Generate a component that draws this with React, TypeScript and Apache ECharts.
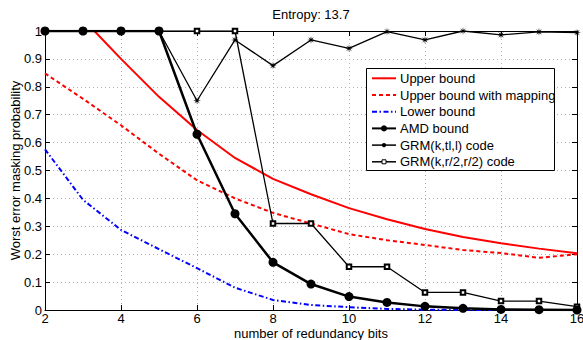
import React, { useEffect, useRef } from "react";
import * as echarts from "echarts";

const bits = [2, 3, 4, 5, 6, 7, 8, 9, 10, 11, 12, 13, 14, 15, 16];
const xTicks = [2, 4, 6, 8, 10, 12, 14, 16];

const upperBoundX = [2, 3, 3.3, 4, 5, 6, 7, 8, 9, 10, 11, 12, 13, 14, 15, 16];
const upperBound = [1, 1, 1, 0.9, 0.764, 0.645, 0.545, 0.47, 0.415, 0.365, 0.325, 0.29, 0.262, 0.239, 0.22, 0.203];
const upperMapping = [0.848, 0.757, 0.662, 0.56, 0.465, 0.4, 0.348, 0.31, 0.272, 0.25, 0.233, 0.215, 0.204, 0.187, 0.2];
const lowerBound = [0.576, 0.395, 0.287, 0.218, 0.15, 0.08, 0.036, 0.018, 0.01, 0.004, 0.001, 0, 0, 0, 0];
const amdBound = [1, 1, 1, 1, 0.63, 0.345, 0.171, 0.093, 0.048, 0.027, 0.013, 0.006, 0.002, 0.001, 0];
const grmTl = [1, 1, 1, 1, 0.75, 0.968, 0.876, 0.968, 0.938, 0.998, 0.968, 1, 0.986, 0.997, 0.994];
const grmHalf = [1, 1, 1, 1, 1, 1, 0.31, 0.31, 0.155, 0.155, 0.063, 0.063, 0.032, 0.032, 0.012];

const seriesNames = [
  "Upper bound",
  "Upper bound with mapping",
  "Lower bound",
  "AMD bound",
  "GRM(k,tl,l) code",
  "GRM(k,r/2,r/2) code",
];

const FONT = "'Liberation Sans', Arial, Helvetica, sans-serif";
const STAR_D =
  "M20 10 L12.77 11.15 L17.07 17.07 L11.15 12.77 L10 20 L8.85 12.77 L2.93 17.07 L7.23 11.15 L0 10 L7.23 8.85 L2.93 2.93 L8.85 7.23 L10 0 L11.15 7.23 L17.07 2.93 L12.77 8.85 Z";
const STAR = "path://" + STAR_D;

const pairs = (xs: number[], ys: number[]) => xs.map((x, i) => [x, ys[i]]);

const LEG_X = 366;
const LEG_Y = 68;
const LEG_W = 189;
const LEG_H = 103;
const ROW0 = 78.3;
const ROW_H = 16.7;

function legendGraphics() {
  const els: any[] = [
    {
      type: "rect",
      z: 100,
      shape: { x: LEG_X + 0.5, y: LEG_Y + 0.5, width: LEG_W - 1, height: LEG_H - 1 },
      style: { fill: "#fff", stroke: "#000", lineWidth: 1 },
    },
  ];
  const styles = [
    { color: "#ff0000", width: 2, dash: null as any, marker: null as any },
    { color: "#ff0000", width: 2, dash: [4, 3], marker: null },
    { color: "#0000ff", width: 2, dash: [5, 2.5, 1.5, 2.5], marker: null },
    { color: "#000", width: 2, dash: null, marker: "circle" },
    { color: "#000", width: 1.5, dash: null, marker: "star" },
    { color: "#000", width: 1.5, dash: null, marker: "square" },
  ];
  seriesNames.forEach((name, i) => {
    const cy = ROW0 + i * ROW_H;
    const s = styles[i];
    els.push({
      type: "line",
      z: 101,
      shape: { x1: 372, y1: cy, x2: 396, y2: cy },
      style: { stroke: s.color, lineWidth: s.width, lineDash: s.dash || undefined },
    });
    if (s.marker === "circle") {
      els.push({ type: "circle", z: 102, shape: { cx: 384, cy, r: 3 }, style: { fill: "#000" } });
    } else if (s.marker === "star") {
      els.push({ type: "circle", z: 102, shape: { cx: 384, cy, r: 2.2 }, style: { fill: "#000" } });
    } else if (s.marker === "square") {
      els.push({
        type: "rect",
        z: 102,
        shape: { x: 382, y: cy - 2, width: 4, height: 4 },
        style: { fill: "#fff", stroke: "#000", lineWidth: 1 },
      });
    }
    els.push({
      type: "text",
      z: 102,
      x: 400,
      y: cy,
      style: { text: name, fill: "#000", font: `13px ${FONT}`, verticalAlign: "middle" },
    });
  });
  return els;
}

export default function App() {
  const ref = useRef<HTMLDivElement>(null);
  useEffect(() => {
    if (!ref.current) return;
    const chart = echarts.init(ref.current, undefined, { renderer: "svg" });
    const grid = { left: 45, right: 6, top: 31, bottom: 30, containLabel: false, outerBoundsMode: "none" };
    const splitLine = { show: true, lineStyle: { color: "#b0b0b0", type: [1, 3] as any, width: 1 } };
    const axisLine = { show: true, onZero: false, lineStyle: { color: "#000", width: 1 } };
    const axisTick = { show: true, inside: true, length: 5, lineStyle: { color: "#000" } };
    chart.setOption({
      animation: false,
      backgroundColor: "#fff",
      textStyle: { fontFamily: FONT },
      grid,
      graphic: [
        {
          type: "text",
          x: 311,
          y: 14,
          style: {
            text: "Entropy: 13.7",
            fill: "#000",
            font: `13px ${FONT}`,
            align: "center",
            verticalAlign: "middle",
          },
        },
        {
          type: "text",
          x: 311,
          y: 333,
          style: {
            text: "number of redundancy bits",
            fill: "#000",
            font: `13px ${FONT}`,
            align: "center",
            verticalAlign: "middle",
          },
        },
        ...legendGraphics(),
      ],
      xAxis: [
        {
          type: "value",
          min: 2,
          max: 16,
          interval: 2,
          position: "bottom",
          axisLine,
          axisTick,
          splitLine,
          axisLabel: {
            color: "#000",
            fontSize: 13,
            fontFamily: FONT,
            margin: 2,
            formatter: (v: number) => (xTicks.includes(v) ? String(v) : ""),
          },
        },
        {
          type: "value",
          min: 2,
          max: 16,
          interval: 2,
          position: "top",
          axisLine,
          axisTick,
          splitLine: { show: false },
          axisLabel: { show: false },
        },
      ],
      yAxis: [
        {
          type: "value",
          min: 0,
          max: 1,
          interval: 0.1,
          position: "left",
          axisLine,
          axisTick,
          splitLine,
          axisLabel: {
            color: "#000",
            fontSize: 13,
            fontFamily: FONT,
            margin: 3,
            formatter: (v: number) => String(Math.round(v * 10) / 10),
          },
          name: "Worst error masking probability",
          nameLocation: "middle",
          nameGap: 23,
          nameMoveOverlap: false,
          nameTextStyle: { color: "#000", fontSize: 13, fontFamily: FONT },
        },
        {
          type: "value",
          min: 0,
          max: 1,
          interval: 0.1,
          position: "right",
          axisLine,
          axisTick,
          splitLine: { show: false },
          axisLabel: { show: false },
        },
      ],
      series: [
        {
          name: seriesNames[0],
          type: "line",
          data: pairs(upperBoundX, upperBound),
          showSymbol: false,
          symbol: "none",
          lineStyle: { color: "#ff0000", width: 2 },
          itemStyle: { color: "#ff0000" },
        },
        {
          name: seriesNames[1],
          type: "line",
          data: pairs(bits, upperMapping),
          showSymbol: false,
          symbol: "none",
          lineStyle: { color: "#ff0000", width: 2, type: [4, 3] as any },
          itemStyle: { color: "#ff0000" },
        },
        {
          name: seriesNames[2],
          type: "line",
          data: pairs(bits, lowerBound),
          showSymbol: false,
          symbol: "none",
          lineStyle: { color: "#0000ff", width: 2, type: [5, 2.5, 1.5, 2.5] as any },
          itemStyle: { color: "#0000ff" },
        },
        {
          name: seriesNames[3],
          type: "line",
          data: pairs(bits, amdBound),
          symbol: "circle",
          symbolSize: 9,
          lineStyle: { color: "#000", width: 2.5 },
          itemStyle: { color: "#000" },
          z: 5,
        },
        {
          name: seriesNames[4],
          type: "line",
          data: pairs(bits, grmTl),
          symbol: STAR,
          symbolSize: 8,
          lineStyle: { color: "#000", width: 1.3 },
          itemStyle: { color: "#000" },
          z: 4,
        },
        {
          name: seriesNames[5],
          type: "line",
          data: pairs(bits, grmHalf),
          symbol: "emptyRect",
          symbolSize: 4.5,
          lineStyle: { color: "#000", width: 1.3 },
          itemStyle: { color: "#000", borderColor: "#000", borderWidth: 1 },
          z: 4,
        },
      ],
    });
    return () => chart.dispose();
  }, []);
  return (
    <div
      ref={ref}
      style={{ position: "fixed", left: 0, top: 0, width: 583, height: 340, background: "#fff" }}
    />
  );
}
